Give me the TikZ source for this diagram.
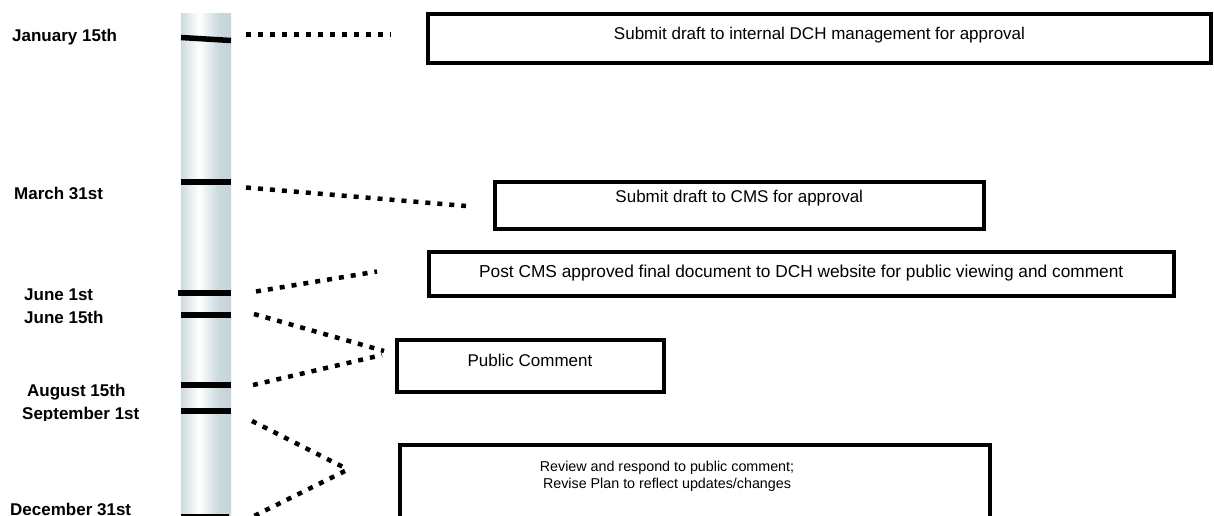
\documentclass[tikz,border=0pt]{standalone}
\usepackage{fontspec}
\setmainfont{Liberation Sans}
\usetikzlibrary{calc}

\definecolor{barL}{HTML}{CDDADE}
\definecolor{barM}{HTML}{CBDADE}
\definecolor{barR}{HTML}{C3D3D8}

% light metallic column: pale edges, bright stripe left of centre
\pgfdeclarehorizontalshading{barshade}{100bp}{%
  color(0bp)=(barL); color(25bp)=(barL); color(43bp)=(white);
  color(62bp)=(barM); color(75bp)=(barR); color(100bp)=(barR)}

\tikzset{
  datelabel/.style={font=\fontsize{17}{20}\selectfont\bfseries, inner sep=0pt, anchor=base west},
  tickline/.style={line width=5.5pt, black},
  endtick/.style={line width=2pt, black},
  dotline/.style={line width=4.5pt, dash pattern=on 5pt off 7pt, black},
  stepbox/.style={draw=black, line width=4pt, fill=white, rectangle, inner sep=0pt, outer sep=0pt, anchor=north west},
  boxtext/.style={font=\fontsize{17}{20}\selectfont, inner sep=0pt, anchor=base},
  smalltext/.style={font=\fontsize{14.3}{17}\selectfont, inner sep=0pt, anchor=base},
}

\begin{document}
\begin{tikzpicture}[x=1pt, y=-1pt]
\clip (0,0) rectangle (1214,516);
\fill[white] (0,0) rectangle (1214,516);

% the time column
\shade[shading=barshade] (181,14) rectangle (231,530);

% date marks on the column
\draw[tickline] (181,37.5) -- (231,40.5);
\draw[tickline] (181,182) -- (231,182);
\draw[tickline] (178,293) -- (231,293);
\draw[tickline] (181,315) -- (231,315);
\draw[tickline] (181,385) -- (231,385);
\draw[tickline] (181,411) -- (231,411);
\draw[endtick] (181,515) -- (229,515);

% dates
\node[datelabel] (lj) at (12,42) {January 15th};
\begin{scope}
  \clip (0,150) rectangle (178,198);
  \node[datelabel] (lm) at (14,199.5) {March 31st};
\end{scope}
\node[datelabel] (lp) at (24,300) {June 1st};
\begin{scope}
  \clip (0,305) rectangle (178,324);
  \node[datelabel] (lq) at (24,323.5) {June 15th};
\end{scope}
\node[datelabel] (lr) at (27,396) {August 15th};
\begin{scope}
  \clip (0,400) rectangle (178,420);
  \node[datelabel] (ls) at (22,419.5) {September 1st};
\end{scope}
\node[datelabel] (ld) at (10,515) {December 31st};

% activity boxes
\node[stepbox, minimum width=783pt, minimum height=48.5pt] (b1) at (428,14.5) {};
\node[boxtext] (t1) at ($(b1.north)+(0,25)$) {Submit draft to internal DCH management for approval};

\node[stepbox, minimum width=488.5pt, minimum height=47pt] (b2) at (495,182) {};
\node[boxtext] (t2) at ($(b2.north)+(0,20)$) {Submit draft to CMS for approval};

\node[stepbox, minimum width=745.5pt, minimum height=43.5pt] (b3) at (428.5,252) {};
\node[boxtext, font=\fontsize{17.3}{20}\selectfont] (t3) at ($(b3.north)+(0,25.3)$) {Post CMS approved final document to DCH website for public viewing and comment};

\node[stepbox, minimum width=267pt, minimum height=52pt] (b4) at (396.5,339.5) {};
\node[boxtext] (t4) at ($(b4.north)+(0,26.5)$) {Public Comment};

\node[stepbox, minimum width=590pt, minimum height=100pt] (b5) at (400,445) {};
\node[smalltext] (t5a) at ($(b5.north)+(-28,26)$) {Review and respond to public comment;};
\node[smalltext] (t5b) at ($(b5.north)+(-28,43)$) {Revise Plan to reflect updates/changes};

% dotted leaders from the dates towards the activities
\coordinate (j1) at (246,34.5);  \coordinate (j2) at (391,34.5);
\coordinate (m1) at (246,187.5); \coordinate (m2) at (466,206);
\coordinate (p1) at (256,291.5); \coordinate (p2) at (377,271.5);
\coordinate (q1) at (254,314);   \coordinate (q2) at (384,351);
\coordinate (r1) at (253,385);   \coordinate (r2) at (382,355);
\coordinate (s1) at (252,421);   \coordinate (s2) at (346,468.5);
\coordinate (d1) at (345,471);   \coordinate (d2) at (250,518);

\draw[dotline] (j1) -- (j2);
\draw[dotline] (m1) -- (m2);
\draw[dotline] (p1) -- (p2);
\draw[dotline] (q1) -- (q2);
\draw[dotline] (r1) -- (r2);
\draw[dotline] (s1) -- (s2);
\draw[dotline] (d1) -- (d2);
\end{tikzpicture}
\end{document}
